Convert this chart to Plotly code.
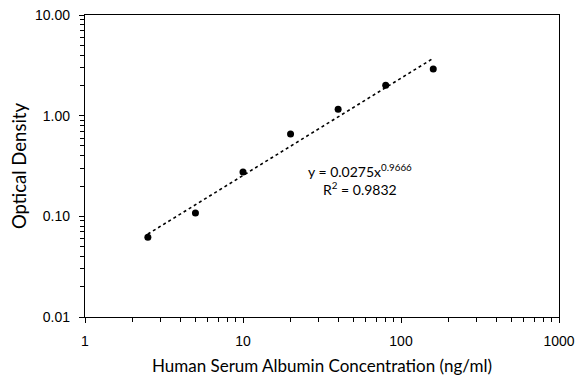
import numpy as np
import plotly.graph_objects as go

conc = [2.5, 5, 10, 20, 40, 80, 160]
od = [0.062, 0.108, 0.275, 0.656, 1.16, 2.01, 2.90]
coef_a = 0.0275
coef_b = 0.9666
r2 = 0.9832

x_ticks = [1, 10, 100, 1000]
x_labels = ["1", "10", "100", "1000"]
y_ticks = [0.01, 0.1, 1, 10]
y_labels = ["0.01", "0.10", "1.00", "10.00"]

fit_x = np.array([min(conc), max(conc)])
fit_y = coef_a * fit_x ** coef_b

x_minor = [m * d for d in [1, 10, 100] for m in range(2, 10)]
y_minor = [m * d for d in [0.01, 0.1, 1] for m in range(2, 10)]

fig = go.Figure()
fig.add_trace(go.Scatter(x=fit_x, y=fit_y, mode="lines",
                         line=dict(color="black", width=1.6, dash="dot"),
                         showlegend=False, hoverinfo="skip"))
fig.add_trace(go.Scatter(x=conc, y=od, mode="markers",
                         marker=dict(color="black", size=7),
                         showlegend=False))

fig.add_annotation(xref="paper", yref="paper", x=0.58, y=0.455,
                   text=f"y = {coef_a}x<sup>{coef_b}</sup><br>R<sup>2</sup> = {r2}",
                   showarrow=False, align="center",
                   font=dict(family="Lato", size=14, color="black"))

axis_common = dict(showline=True, linecolor="black", linewidth=1.3, mirror=True,
                   showgrid=False, zeroline=False, ticks="outside", ticklen=5,
                   tickcolor="black", tickwidth=1, automargin=False,
                   ticklabeloverflow="allow")

fig.update_xaxes(type="log", range=[0, 3], tickvals=x_ticks, ticktext=x_labels,
                 tickfont=dict(family="Liberation Sans", size=14, color="black"),
                 ticklabelstandoff=6,
                 title=dict(text="Human Serum Albumin Concentration (ng/ml)",
                            font=dict(family="Lato", size=17, color="black"), standoff=12),
                 minor=dict(tickvals=x_minor, ticks="outside", ticklen=4,
                            tickcolor="black", showgrid=False),
                 **axis_common)
fig.update_yaxes(type="log", range=[-2, 1], tickvals=y_ticks, ticktext=y_labels,
                 tickfont=dict(family="Liberation Sans", size=14, color="black"),
                 ticklabelstandoff=6,
                 title=dict(text="Optical Density",
                            font=dict(family="Lato", size=18.5, color="black"), standoff=11),
                 minor=dict(tickvals=y_minor, ticks="outside", ticklen=4,
                            tickcolor="black", showgrid=False),
                 **axis_common)

fig.update_layout(width=575, height=375, margin=dict(l=77, r=24, t=7, b=66),
                  plot_bgcolor="white", paper_bgcolor="white")

fig.write_html("out.html")
